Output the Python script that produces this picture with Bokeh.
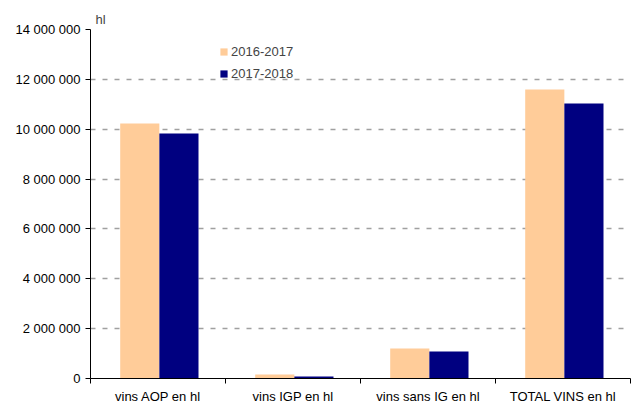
from bokeh.plotting import figure
from bokeh.models import FixedTicker, Range1d, Legend, LegendItem, ColumnDataSource
from bokeh.embed import file_html
from bokeh.resources import INLINE

categories = ["vins AOP en hl", "vins IGP en hl", "vins sans IG en hl", "TOTAL VINS en hl"]
series_names = ["2016-2017", "2017-2018"]
values_2016_2017 = [10230000, 160000, 1200000, 11590000]
values_2017_2018 = [9830000, 80000, 1080000, 11030000]
y_ticks = [0, 2000000, 4000000, 6000000, 8000000, 10000000, 12000000, 14000000]
colors = ["#FFCC99", "#000080"]

FONT = "Liberation Sans"
bar_w = 0.29

p = figure(width=644, height=406, output_backend="svg", toolbar_location=None,
           x_range=Range1d(0, len(categories)), y_range=Range1d(0, 14000000),
           min_border_left=90, min_border_right=14, min_border_top=29, min_border_bottom=28)
p.outline_line_color = None
p.background_fill_color = "white"
p.border_fill_color = "white"

centers = [i + 0.5 for i in range(len(categories))]
renderers = []
for k, (vals, col) in enumerate(zip([values_2016_2017, values_2017_2018], colors)):
    off = (k - 0.5) * bar_w + 0.01
    src = ColumnDataSource(dict(x=[c + off for c in centers], top=vals))
    r = p.vbar(x="x", top="top", bottom=0, width=bar_w, source=src,
               fill_color=col, line_color=None)
    renderers.append(r)

# x axis
xa = p.xaxis[0]
xa.ticker = FixedTicker(ticks=centers, minor_ticks=list(range(len(categories) + 1)))
xa.major_label_overrides = {c: name for c, name in zip(centers, categories)}
xa.major_tick_line_color = None
xa.major_tick_in = 0
xa.major_tick_out = 5
xa.minor_tick_in = 0
xa.minor_tick_out = 5
xa.minor_tick_line_color = "black"
xa.axis_line_color = "black"
xa.major_label_text_font = FONT
xa.major_label_text_font_size = "13px"
xa.major_label_text_color = "black"
xa.major_label_standoff = 5

# y axis
ya = p.yaxis[0]
ya.ticker = FixedTicker(ticks=y_ticks, minor_ticks=[])
ya.major_label_overrides = {t: f"{t:,}".replace(",", " ") for t in y_ticks}
ya.major_tick_in = 0
ya.major_tick_out = 5
ya.major_label_standoff = 5
ya.axis_line_color = "black"
ya.major_label_text_font = FONT
ya.major_label_text_font_size = "13px"
ya.major_label_text_color = "black"

p.xgrid.grid_line_color = None
p.ygrid.grid_line_color = "#a0a0a0"
p.ygrid.grid_line_width = 1.5
p.ygrid.grid_line_dash = "5 7"

# unit label
p.title.text = "hl"
p.title.text_font = FONT
p.title.text_font_size = "13px"
p.title.text_font_style = "normal"
p.title.align = "left"
p.title.offset = 5
p.title.standoff = 6

legend = Legend(items=[LegendItem(label=n, renderers=[r]) for n, r in zip(series_names, renderers)],
                location=(129, 295), orientation="vertical")
legend.glyph_width = 9
legend.glyph_height = 9
legend.label_standoff = 3
legend.spacing = 2
legend.padding = 0
legend.margin = 0
legend.border_line_color = None
legend.background_fill_alpha = 0
legend.label_text_font = FONT
legend.label_text_font_size = "13px"
legend.label_height = 20
p.add_layout(legend)

open("out.html", "w").write(file_html(p, INLINE))
